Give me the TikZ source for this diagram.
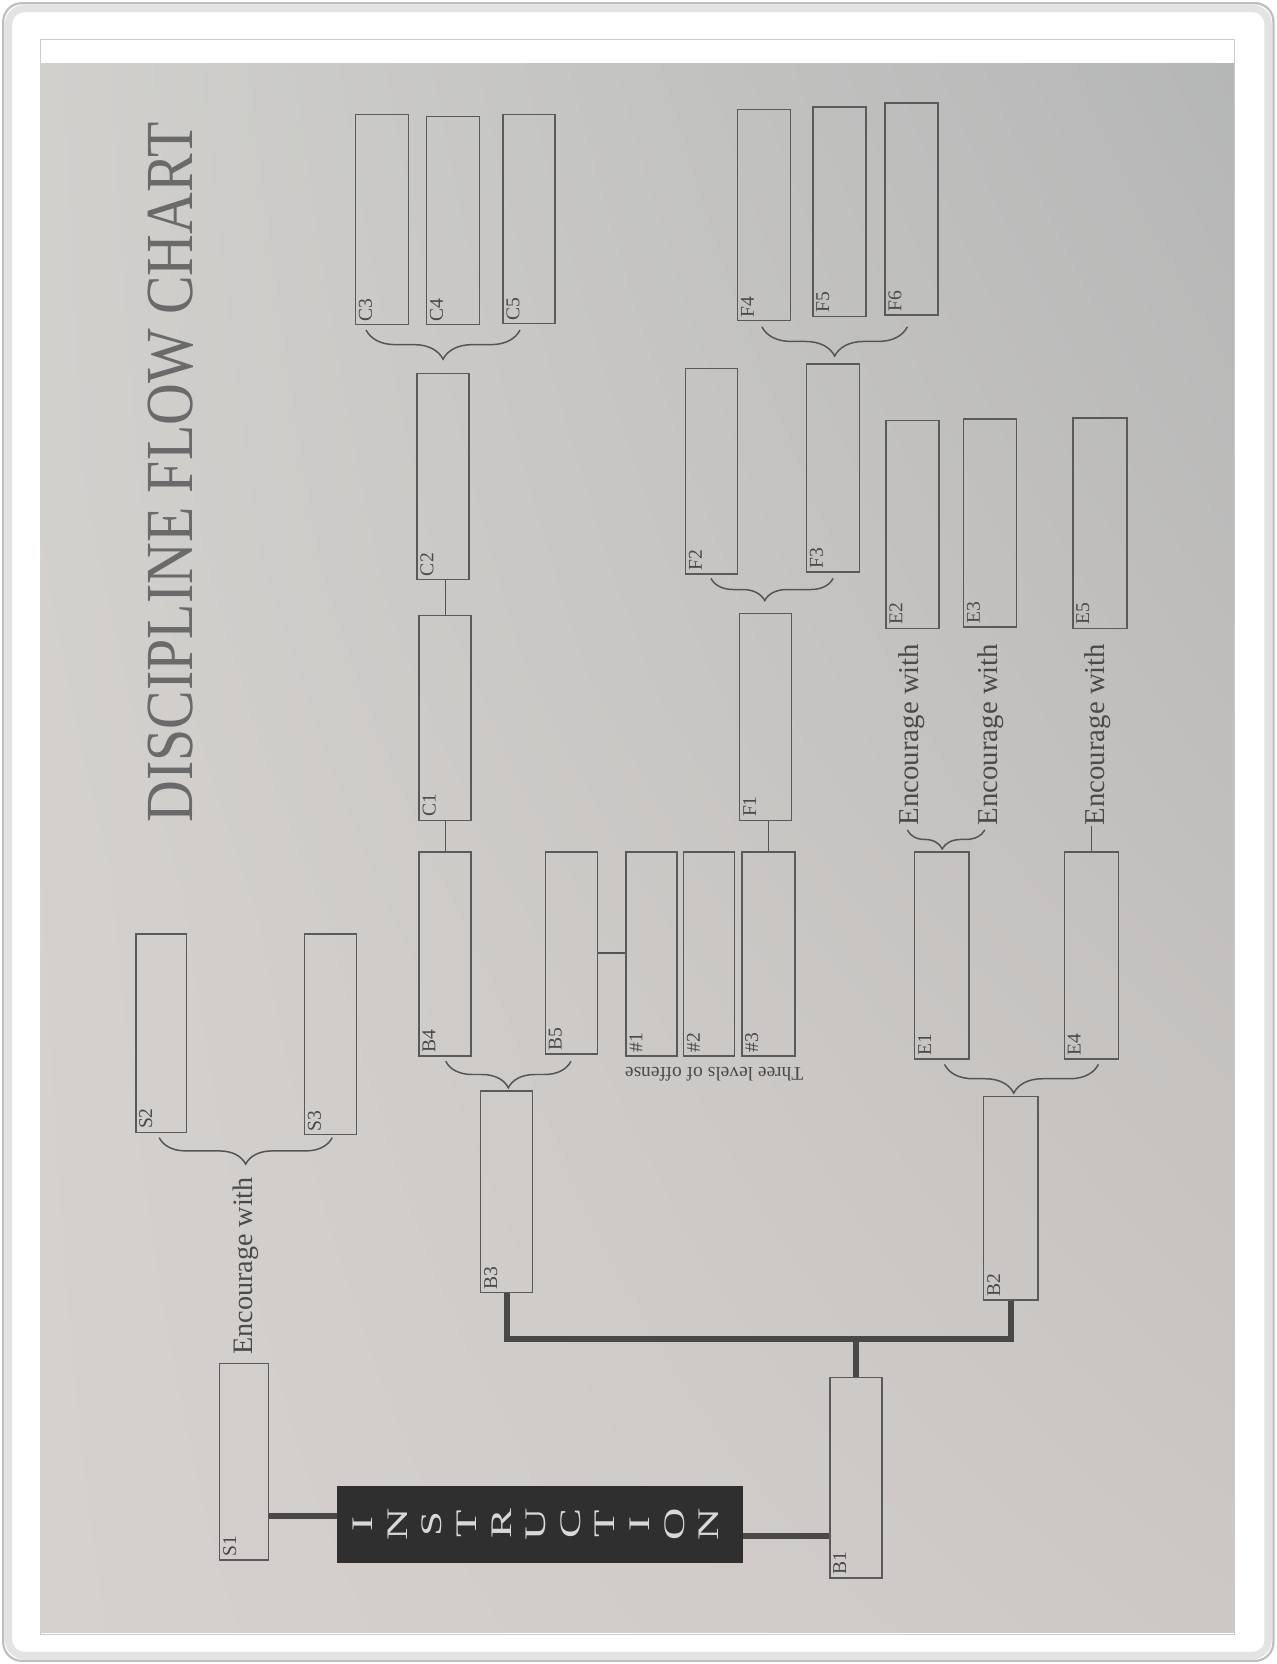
\documentclass[tikz,border=0pt]{standalone}
\usepackage{graphicx}
\usepackage{fontspec}
\setmainfont{Liberation Serif}
\usetikzlibrary{decorations.pathreplacing,calc,shadings}
\definecolor{boxc}{HTML}{5A5A5A}
\definecolor{linec}{HTML}{555555}
\definecolor{heavyc}{HTML}{4A4847}
\definecolor{titlec}{HTML}{6A6A6A}
\definecolor{txtc}{HTML}{4A4A4A}
\definecolor{insc}{HTML}{2F2F2F}
\definecolor{insl}{HTML}{D8D8D8}
\definecolor{bgul}{HTML}{D1D0CD}
\definecolor{bgur}{HTML}{B5B6B6}
\definecolor{bgll}{HTML}{D6D1CE}
\definecolor{bglr}{HTML}{CDC8C5}
\newcommand{\bxnode}[6]{%
  \node[bx, minimum width={(#4-#3)*0.02cm}, minimum height={(#6-#5)*0.02cm}] (#1) at ({(#3+#4)/2},{(#5+#6)/2}) {};
  \node[lbl] (#1l) at (#1.south west) {#2};
}
\begin{document}
\begin{tikzpicture}[x=0.02cm,y=-0.02cm,
  bx/.style={draw=boxc, line width=0.75pt, inner sep=0pt},
  lbl/.style={rotate=90, anchor=north west, inner sep=2pt, font=\fontsize{10.5}{12}\selectfont, text=txtc},
  conn/.style={draw=linec, line width=0.7pt},
  heavy/.style={draw=heavyc, line width=3.3pt},
  brc/.style={decorate, decoration={brace, mirror, amplitude=#1}, draw=linec, line width=0.8pt},
  brc/.default=0.5cm,
  enc/.style={rotate=90, anchor=west, inner sep=0pt, text=txtc}]
\useasboundingbox (0,0) rectangle (1203,1568);
% frame
\fill[white] (0,0) rectangle (1203,1568);
\draw[gray!22, line width=4pt, rounded corners=0.3cm] (8,8) rectangle (1195,1560);
\draw[gray!50, line width=1.2pt, rounded corners=0.35cm] (3,3) rectangle (1200,1565);
\draw[gray!40, line width=0.6pt] (38,37) rectangle (1163,1540);
\shade[upper left=bgul, upper right=bgur, lower left=bgll, lower right=bglr] (38,60) rectangle (1163,1538);
% title
\node[rotate=90, inner sep=0pt, text=titlec] (title) at (161,445) {\resizebox{13.2cm}{0.84cm}{DISCIPLINE FLOW CHART}};
% boxes
\bxnode{S1}{S1}{207}{253}{1285}{1470}
\bxnode{S2}{S2}{128}{176}{880}{1067}
\bxnode{S3}{S3}{287}{336}{880}{1069}
\bxnode{B1}{B1}{782}{831}{1298}{1487}
\bxnode{B2}{B2}{927}{978}{1033}{1225}
\bxnode{B3}{B3}{453}{502}{1028}{1218}
\bxnode{B4}{B4}{395}{444}{803}{995}
\bxnode{B5}{B5}{514}{563}{803}{993}
\bxnode{n1}{\#1}{590}{638}{803}{995}
\bxnode{n2}{\#2}{644}{692}{803}{995}
\bxnode{n3}{\#3}{699}{749}{803}{995}
\bxnode{C1}{C1}{395}{444}{580}{773}
\bxnode{C2}{C2}{393}{442}{352}{546}
\bxnode{C3}{C3}{335}{385}{108}{306}
\bxnode{C4}{C4}{402}{452}{110}{306}
\bxnode{C5}{C5}{474}{523}{108}{305}
\bxnode{F1}{F1}{697}{746}{578}{773}
\bxnode{F2}{F2}{646}{695}{347}{541}
\bxnode{F3}{F3}{760}{810}{343}{539}
\bxnode{F4}{F4}{695}{745}{103}{302}
\bxnode{F5}{F5}{766}{816}{101}{298}
\bxnode{F6}{F6}{834}{884}{97}{297}
\bxnode{E1}{E1}{862}{913}{803}{998}
\bxnode{E2}{E2}{835}{885}{396}{592}
\bxnode{E3}{E3}{908}{958}{395}{591}
\bxnode{E4}{E4}{1003}{1054}{803}{998}
\bxnode{E5}{E5}{1011}{1062}{394}{592}
% instruction
\node[fill=insc, minimum width={382*0.02cm}, minimum height={73*0.02cm}, inner sep=0pt] (INS) at (509,1436.5) {};
\foreach \L [count=\i from 0] in {I,N,S,T,R,U,C,T,I,O,N}
  {\node[rotate=90, text=insl, font=\fontsize{16}{18}\selectfont, inner sep=0pt] (ins\i) at ({342+\i*32.6},1436) {\scalebox{1.5}[1]{\L}};}
% texts
\node[enc] (s1t) at (232,1277) {\resizebox{3.35cm}{!}{Encourage with}};
\node[enc] (e2t) at (859,778) {\resizebox{3.42cm}{!}{Encourage with}};
\node[enc] (e3t) at (933,778) {\resizebox{3.42cm}{!}{Encourage with}};
\node[enc] (e5t) at (1034,778) {\resizebox{3.42cm}{!}{Encourage with}};
\node[rotate=180, inner sep=0pt, text=txtc] (tlo) at (673,1012) {\resizebox{3.36cm}{!}{Three levels of offense}};
% thin connectors
\draw[conn] (C1.north) -- (C1.north |- C2.south);
\draw[conn] (B4.north) -- (B4.north |- C1.south);
\draw[conn] (B5.east) -- (B5.east -| n1.west);
\draw[conn] (n3.north) -- (n3.north |- F1.south);
\draw[conn] (E4.north) -- (E4.north |- e5t.west);
% heavy connectors
\coordinate (jn) at (806,1262);
\draw[heavy] (B3.south) -- (B3.south |- jn) -- (B2.south |- jn) -- (B2.south);
\draw[heavy] (B1.north) -- (B1.north |- jn);
\coordinate (p1) at ([yshift=0.16cm]INS.west);
\draw[heavy] (p1) -- (p1 -| S1.east);
\coordinate (p2) at ([yshift=-0.22cm]INS.east);
\draw[heavy] (p2) -- (p2 -| B1.west);
% braces
\draw[brc=0.5cm] (150,1072) -- (313,1072);
\draw[brc=0.55cm] (345,311) -- (490,311);
\draw[brc=0.5cm] (420,1000) -- (538,1000);
\draw[brc=0.42cm, decoration={aspect=0.44}] (670,545) -- (785,545);
\draw[brc=0.55cm] (718,308) -- (855,308);
\draw[brc=0.36cm, decoration={aspect=0.45}] (855,782) -- (928,782);
\draw[brc=0.54cm, decoration={aspect=0.45}] (890,1003) -- (1035,1003);
\end{tikzpicture}
\end{document}
